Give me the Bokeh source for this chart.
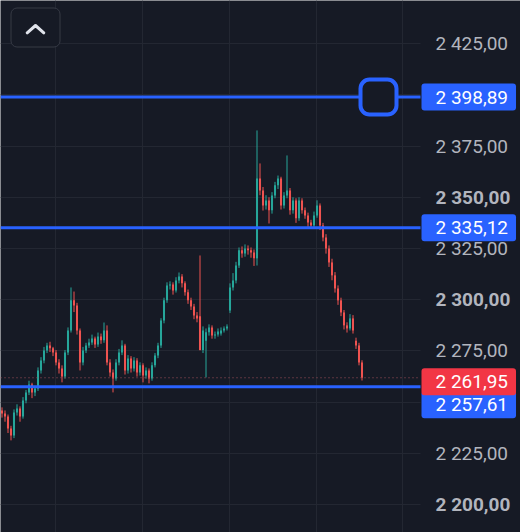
from bokeh.plotting import figure
from bokeh.models import Range1d, FixedTicker, BoxAnnotation, PolyAnnotation, Label, ColumnDataSource
from bokeh.core.properties import value
from bokeh.embed import file_html
from bokeh.resources import INLINE

# ---------------- data ----------------
opens = [2246.0, 2244.5, 2243.1, 2237.2, 2233.8, 2245.0, 2247.0, 2243.1, 2250.9, 2254.8,
         2258.7, 2254.8, 2256.7, 2265.5, 2270.4, 2275.3, 2277.7, 2276.3, 2274.3, 2269.4,
         2266.5, 2262.6, 2274.3, 2285.0, 2299.7, 2297.2, 2285.0, 2269.4, 2275.3, 2277.7,
         2279.2, 2281.1, 2278.2, 2282.1, 2280.2, 2285.0, 2269.4, 2264.5, 2261.6, 2269.4,
         2274.3, 2277.7, 2265.5, 2271.4, 2266.5, 2270.4, 2264.5, 2268.0, 2263.1, 2265.5,
         2261.6, 2268.0, 2272.8, 2277.7, 2289.9, 2299.7, 2307.0, 2307.5, 2304.5, 2309.4,
         2311.4, 2308.0, 2303.6, 2299.7, 2296.7, 2292.3, 2292.0, 2275.5, 2280.0, 2284.1,
         2286.5, 2282.6, 2283.1, 2283.5, 2285.0, 2286.0, 2294.8, 2306.0, 2309.4, 2316.7,
         2324.1, 2322.6, 2325.0, 2324.1, 2323.1, 2320.2, 2359.2, 2353.3, 2346.0, 2348.4,
         2343.6, 2350.9, 2355.8, 2359.2, 2346.0, 2350.9, 2353.3, 2343.6, 2348.4, 2339.7,
         2348.4, 2343.6, 2341.1, 2337.7, 2336.2, 2341.1, 2346.0, 2336.2, 2330.4, 2325.0,
         2318.2, 2311.9, 2305.5, 2299.7, 2293.8, 2287.5, 2286.0, 2290.9, 2280.0, 2277.7,
         2269.4]
highs = [2247.5, 2246.0, 2244.0, 2238.5, 2246.5, 2249.0, 2248.0, 2252.5, 2256.0, 2260.5,
         2259.5, 2258.0, 2267.0, 2272.0, 2277.0, 2279.0, 2279.5, 2277.0, 2275.5, 2271.0,
         2268.0, 2275.5, 2286.5, 2306.0, 2304.0, 2298.5, 2286.0, 2277.0, 2279.0, 2281.0,
         2283.0, 2282.0, 2284.0, 2283.5, 2288.9, 2287.5, 2271.0, 2266.0, 2271.0, 2276.0,
         2280.2, 2278.5, 2273.0, 2272.5, 2272.0, 2271.5, 2269.5, 2269.0, 2267.0, 2266.5,
         2269.5, 2274.0, 2279.0, 2291.0, 2301.0, 2308.5, 2309.0, 2308.5, 2311.0, 2313.3,
         2312.5, 2309.0, 2305.0, 2301.0, 2298.0, 2294.0, 2321.6, 2287.0, 2286.0, 2288.0,
         2287.5, 2284.5, 2286.0, 2286.5, 2287.0, 2288.0, 2308.0, 2313.0, 2318.5, 2325.5,
         2326.0, 2327.0, 2326.5, 2325.5, 2324.5, 2382.6, 2366.5, 2355.0, 2351.0, 2350.0,
         2352.5, 2357.5, 2360.6, 2360.0, 2352.5, 2370.4, 2354.5, 2350.0, 2349.5, 2350.0,
         2349.5, 2345.0, 2342.5, 2339.0, 2343.0, 2348.5, 2347.0, 2337.5, 2332.0, 2326.5,
         2320.0, 2313.5, 2307.0, 2301.0, 2295.0, 2289.0, 2293.0, 2292.5, 2281.5, 2279.0,
         2270.5]
lows = [2242.5, 2240.5, 2235.0, 2231.4, 2232.5, 2243.5, 2240.5, 2242.0, 2249.5, 2253.5,
        2252.0, 2253.0, 2255.5, 2264.0, 2269.0, 2274.0, 2274.5, 2272.5, 2268.0, 2264.0,
        2259.7, 2261.5, 2273.0, 2284.0, 2294.0, 2283.0, 2265.5, 2268.0, 2274.0, 2276.5,
        2278.0, 2276.5, 2277.0, 2278.5, 2279.0, 2268.0, 2262.5, 2254.8, 2260.5, 2268.0,
        2273.0, 2263.5, 2264.0, 2264.5, 2265.0, 2262.5, 2263.0, 2259.7, 2261.5, 2259.2,
        2260.5, 2267.0, 2271.5, 2276.5, 2288.5, 2298.5, 2305.0, 2302.5, 2303.5, 2308.0,
        2306.0, 2302.0, 2298.0, 2295.0, 2290.5, 2289.0, 2275.3, 2274.0, 2262.1, 2282.5,
        2281.0, 2281.0, 2282.0, 2282.5, 2284.0, 2285.0, 2293.5, 2304.5, 2308.0, 2315.5,
        2320.5, 2321.0, 2322.0, 2320.5, 2316.5, 2316.7, 2351.0, 2343.5, 2344.0, 2337.2,
        2342.0, 2349.5, 2354.0, 2344.0, 2344.5, 2349.5, 2341.5, 2342.0, 2337.5, 2338.5,
        2342.0, 2339.5, 2335.5, 2334.5, 2335.0, 2340.0, 2334.0, 2328.5, 2322.5, 2316.0,
        2309.5, 2303.5, 2297.5, 2292.0, 2285.5, 2284.0, 2285.0, 2283.5, 2276.0, 2268.0,
        2260.6]
closes = [2244.5, 2243.1, 2237.2, 2233.8, 2245.0, 2247.0, 2243.1, 2250.9, 2254.8, 2258.7,
          2254.8, 2256.7, 2265.5, 2270.4, 2275.3, 2277.7, 2276.3, 2274.3, 2269.4, 2266.5,
          2262.6, 2274.3, 2285.0, 2299.7, 2297.2, 2285.0, 2269.4, 2275.3, 2277.7, 2279.2,
          2281.1, 2278.2, 2282.1, 2280.2, 2285.0, 2269.4, 2264.5, 2261.6, 2269.4, 2274.3,
          2277.7, 2265.5, 2271.4, 2266.5, 2270.4, 2264.5, 2268.0, 2263.1, 2265.5, 2261.6,
          2268.0, 2272.8, 2277.7, 2289.9, 2299.7, 2307.0, 2307.5, 2304.5, 2309.4, 2311.4,
          2308.0, 2303.6, 2299.7, 2296.7, 2292.3, 2290.9, 2275.5, 2285.0, 2284.1, 2286.5,
          2282.6, 2283.1, 2284.5, 2285.0, 2286.0, 2287.0, 2306.0, 2309.4, 2316.7, 2324.1,
          2322.6, 2325.0, 2324.1, 2323.1, 2320.2, 2359.2, 2353.3, 2346.0, 2348.4, 2343.6,
          2350.9, 2355.8, 2359.2, 2346.0, 2350.9, 2353.3, 2343.6, 2348.4, 2339.7, 2348.4,
          2343.6, 2341.1, 2337.7, 2336.2, 2341.1, 2346.0, 2336.2, 2330.4, 2325.0, 2318.2,
          2311.9, 2305.5, 2299.7, 2293.8, 2287.5, 2286.0, 2290.9, 2285.0, 2277.7, 2269.4,
          2261.95]

level_prices = [2398.89, 2335.12, 2257.61]
level_labels = ["2 398,89", "2 335,12", "2 257,61"]
last_price = 2261.95
last_label = "2 261,95"

price_grid = [2200, 2225, 2250, 2275, 2300, 2325, 2350, 2375, 2400, 2425]
time_grid = [17.8, 46.8, 75.8, 104.8, 133.6]
ticks_regular = [2425, 2375, 2325, 2275, 2225]
labels_regular = ["2 425,00", "2 375,00", "2 325,00", "2 275,00", "2 225,00"]
ticks_bold = [2350, 2300, 2200]
labels_bold = ["2 350,00", "2 300,00", "2 200,00"]

# ---------------- style / layout ----------------
BG = "#161a25"
GRID = "#232732"
UP = "#26a69a"
DOWN = "#ef5350"
BLUE = "#2962ff"
RED = "#f23645"
AXIS_TXT = "#b2b5be"
FONT = "Roboto"
FS = "19px"
W, H = 520, 532
X_START, X_END = -0.5, 172.83      # candle slots (3 px each)
CHART_END = 139.5                  # right edge of the candle pane (price scale to its right)
SCALE_TEXT_X = 144.5               # left edge of price-scale texts

idx = list(range(len(closes)))
colors = [UP if c >= o else DOWN for o, c in zip(opens, closes)]
src = ColumnDataSource(dict(x=idx, o=opens, h=highs, l=lows, c=closes, color=colors))

p = figure(width=W, height=H, x_range=Range1d(X_START, X_END), y_range=Range1d(2186.46, 2445.98),
           output_backend="svg", toolbar_location=None,
           x_axis_location=None, y_axis_location=None, min_border=0,
           background_fill_color=BG, border_fill_color=BG, outline_line_color=None)
p.xgrid.ticker = FixedTicker(ticks=time_grid)
p.ygrid.ticker = FixedTicker(ticks=price_grid)
p.ygrid.cross_bounds = (X_START, CHART_END)
p.grid.grid_line_color = GRID
p.grid.grid_line_width = 1

# candles
p.segment(x0="x", y0="l", x1="x", y1="h", line_color="color", line_width=1, source=src)
p.vbar(x="x", width=0.68, top="o", bottom="c", fill_color="color", line_color=None, source=src)

# last-price dotted line and horizontal levels
p.segment(x0=X_START, x1=CHART_END, y0=last_price, y1=last_price,
          line_color="#a3515c", line_width=1, line_dash="1 3")
p.segment(x0=X_START, x1=CHART_END, y0=level_prices, y1=level_prices,
          line_color=BLUE, line_width=3)

# drag handle on the top level line
p.add_layout(BoxAnnotation(left=360, right=396, left_units="screen", right_units="screen",
                           top=level_prices[0] + 8.5, bottom=level_prices[0] - 8.5,
                           fill_color=BG, fill_alpha=1, line_color=BLUE, line_alpha=1,
                           line_width=4, border_radius=9))

# top-left collapse button
p.add_layout(BoxAnnotation(left=10.5, right=59.5, top=H - 7.5, bottom=H - 46.5,
                           left_units="screen", right_units="screen",
                           top_units="screen", bottom_units="screen",
                           fill_color=BG, fill_alpha=1, line_color="#363a45", line_alpha=1,
                           line_width=1, border_radius=6))
p.add_layout(PolyAnnotation(xs=[26.7, 35.0, 43.3, 35.0], ys=[H - 32.3, H - 25.0, H - 32.3, H - 25.0],
                            xs_units="screen", ys_units="screen",
                            fill_alpha=0, line_color="#e0e3eb", line_alpha=1, line_width=3,
                            line_join="round", line_cap="round"))

# price scale texts
p.text(x=SCALE_TEXT_X, y=ticks_regular, text=labels_regular, text_color=AXIS_TXT,
       text_font=value(FONT), text_font_size=FS, text_baseline="middle", text_align="left")
p.text(x=SCALE_TEXT_X, y=ticks_bold, text=labels_bold, text_color=AXIS_TXT, text_font_style="bold",
       text_font=value(FONT), text_font_size=FS, text_baseline="middle", text_align="left")

pad = dict(left=14, right=8, top=2, bottom=2)
offsets = [0, 0, -18]
for lv, lab, off in zip(level_prices, level_labels, offsets):
    p.add_layout(Label(x=421, x_units="screen", y=lv, text=lab, y_offset=off, text_color="white",
                       text_font=FONT, text_font_size=FS, text_baseline="middle",
                       text_align="left", background_fill_color=BLUE,
                       background_fill_alpha=1, padding=pad, border_radius=3))
p.add_layout(Label(x=421, x_units="screen", y=last_price, text=last_label, y_offset=-4,
                   text_color="white", text_font=FONT, text_font_size=FS, text_baseline="middle",
                   text_align="left", background_fill_color=RED,
                   background_fill_alpha=1, padding=pad, border_radius=3))

open("out.html", "w").write(file_html(p, INLINE))
